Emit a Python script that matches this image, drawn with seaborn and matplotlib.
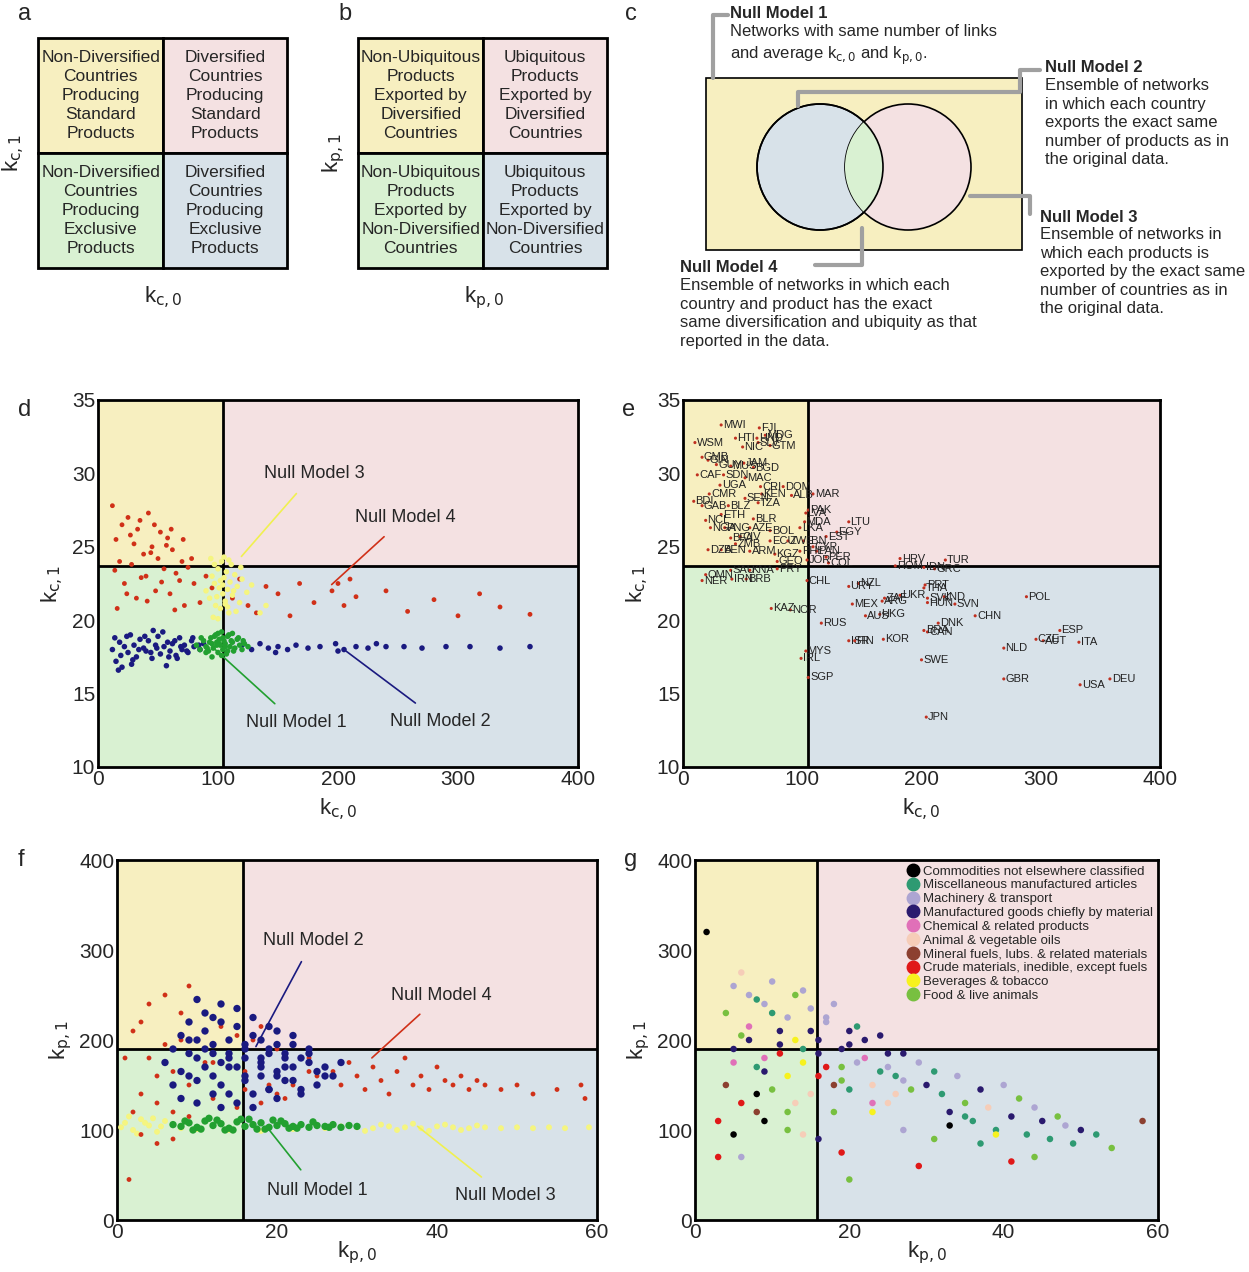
import matplotlib
matplotlib.use("Agg")
import matplotlib.pyplot as plt
import matplotlib.patches as mpatches
import seaborn as sns
import pandas as pd

sns.set_style("white")
plt.rcParams['font.family'] = ['Liberation Sans', 'DejaVu Sans']

W, H = 1249, 1272
YEL, PNK, GRN, BLU = "#f7efc0", "#f4e1e2", "#d9f1d2", "#d8e2e9"

# ---------------- data ----------------
quad_a = ["Non-Diversified\nCountries\nProducing\nStandard\nProducts", "Diversified\nCountries\nProducing\nStandard\nProducts",
          "Non-Diversified\nCountries\nProducing\nExclusive\nProducts", "Diversified\nCountries\nProducing\nExclusive\nProducts"]
quad_b = ["Non-Ubiquitous\nProducts\nExported by\nDiversified\nCountries", "Ubiquitous\nProducts\nExported by\nDiversified\nCountries",
          "Non-Ubiquitous\nProducts\nExported by\nNon-Diversified\nCountries", "Ubiquitous\nProducts\nExported by\nNon-Diversified\nCountries"]

# panel d: null models (kc0, kc1)
d_nm1_x = [82, 85, 88, 90, 92, 94, 95, 96, 98, 99, 100, 101, 102, 103, 104, 105, 106, 107, 108, 110, 112, 114, 116, 118, 120, 122, 125,
           86, 90, 93, 97, 100, 103, 106, 109, 113, 117, 121, 95, 99, 104, 108, 112, 91, 101, 111]
d_nm1_y = [18.3, 18.0, 18.6, 18.2, 17.9, 18.8, 18.4, 18.1, 19.0, 18.5, 17.8, 18.7, 18.3, 19.2, 18.0, 18.6, 18.4, 17.7, 18.9, 18.2, 18.5, 18.1, 18.7, 18.3, 18.0, 18.4, 18.2,
           18.8, 17.8, 18.5, 18.9, 19.1, 17.6, 18.2, 19.0, 17.9, 18.8, 18.6, 17.5, 18.3, 18.8, 17.9, 19.1, 18.1, 18.4, 18.6]
d_nm2_x = [12, 15, 18, 20, 22, 25, 27, 30, 32, 35, 38, 40, 42, 45, 48, 50, 52, 55, 58, 60, 62, 65, 68, 70, 72, 75, 78, 80, 85, 88,
           14, 19, 24, 29, 34, 39, 44, 49, 54, 59, 64, 69, 74, 79, 84, 17, 28, 46, 57, 66,
           120, 128, 135, 142, 150, 158, 165, 175, 185, 198, 205, 215, 225, 240, 255, 270, 290, 310, 335, 360, 148, 200, 232]
d_nm2_y = [18.0, 17.2, 18.5, 16.8, 18.2, 17.8, 19.0, 18.3, 17.5, 18.7, 18.1, 17.9, 18.6, 17.4, 18.3, 18.9, 17.7, 18.2, 18.5, 17.9, 18.4, 17.6, 18.8, 18.0, 18.3, 17.8, 18.6, 18.2, 18.0, 18.4,
           18.8, 17.6, 18.9, 17.3, 18.0, 18.9, 17.8, 18.1, 19.2, 17.5, 18.6, 18.2, 17.9, 18.8, 18.3, 16.6, 17.0, 19.3, 16.9, 17.4,
           18.3, 18.0, 18.4, 18.1, 18.2, 18.0, 18.3, 18.1, 18.2, 18.4, 18.0, 18.2, 18.1, 18.2, 18.2, 18.1, 18.2, 18.2, 18.1, 18.2, 17.8, 17.9, 18.4]
d_nm3_x = [90, 93, 95, 97, 98, 100, 101, 102, 103, 104, 105, 106, 107, 108, 109, 110, 112, 114, 116, 118, 120, 124, 128, 135, 140,
           94, 96, 99, 102, 105, 108, 111, 115, 119, 100, 104, 109, 113, 97, 106]
d_nm3_y = [22.0, 21.5, 23.0, 22.5, 21.0, 23.5, 22.2, 20.8, 24.0, 21.8, 22.9, 21.3, 23.3, 22.1, 20.5, 22.6, 21.7, 23.1, 22.3, 21.2, 22.8, 21.9, 22.4, 20.5, 21.0,
           24.2, 20.2, 21.6, 22.7, 24.3, 20.9, 23.8, 20.6, 23.6, 20.1, 22.4, 24.1, 22.0, 23.8, 21.1]
d_nm4_x = [12, 15, 18, 20, 22, 25, 28, 30, 32, 35, 38, 40, 42, 45, 48, 50, 52, 55, 58, 60, 62, 65, 68, 70, 72, 75, 80, 85, 90, 95,
           16, 24, 33, 41, 47, 53, 57, 64, 71, 78, 14, 27, 36, 44, 61,
           112, 118, 125, 132, 140, 150, 160, 168, 180, 195, 200, 205, 210, 215, 240, 258, 280, 300, 318, 335, 360]
d_nm4_y = [27.8, 25.5, 24.0, 26.5, 22.5, 27.0, 23.8, 25.2, 21.5, 26.8, 24.5, 23.0, 27.3, 25.0, 22.0, 24.2, 26.0, 23.5, 25.6, 21.8, 24.8, 23.2, 22.7, 24.0, 21.0, 23.6, 22.5, 21.2, 23.0, 22.2,
           20.8, 21.8, 26.2, 21.3, 26.5, 22.6, 25.1, 20.7, 25.5, 24.2, 23.4, 25.8, 22.9, 24.6, 26.2,
           21.5, 22.8, 21.0, 20.5, 22.3, 21.8, 20.3, 22.5, 21.2, 22.0, 22.5, 21.0, 22.8, 21.6, 22.0, 20.6, 21.4, 20.3, 21.8, 20.9, 20.4]

# panel e: countries (kc0, kc1)
e_name = ["MWI", "FJI", "MDG", "HTI", "HND", "GTM", "NIC", "SLV", "WSM", "GMB", "GIN", "JAM", "GUY", "MUS", "BGD", "CAF", "SDN", "MAC",
          "UGA", "CRI", "DOM", "CMR", "KEN", "ALB", "MAR", "BDI", "GAB", "BLZ", "TZA", "SEN", "PAK", "LVA", "ETH", "NCL", "BLR", "MDA",
          "NGA", "LTU", "EGY", "LKA", "PNG", "AZE", "BOL", "EST", "CIV", "BFA", "ECU", "ZWE", "LBN", "CYP", "ZMB", "ARM", "BEN", "PAN",
          "PER", "PHL", "KGZ", "GEO", "DZA", "COL", "JOR", "HRV", "TUR", "ROM", "IDN", "GRC", "PRT", "THA", "SVK", "IND", "HUN", "SVN",
          "POL", "CHN", "BRA", "DNK", "CAN", "CZE", "ESP", "AUT", "ITA", "NLD", "SWE", "GBR", "USA", "DEU", "JPN", "SGP", "IRL", "MYS",
          "KAZ", "NOR", "RUS", "ISR", "FIN", "KOR", "AUS", "HKG", "MEX", "ARG", "ZAF", "UKR", "URY", "NZL", "CHL", "OMN", "NER", "IRN",
          "BRB", "KNA", "PRY", "SAU"]
e_x = [32, 64, 69, 44, 62, 73, 50, 63, 10, 16, 21, 51, 28, 40, 59, 12, 34, 52,
       31, 65, 84, 22, 66, 91, 109, 9, 16, 38, 63, 52, 105, 103, 32, 19, 59, 102,
       23, 139, 129, 98, 35, 56, 73, 120, 48, 40, 73, 88, 101, 109, 44, 56, 32, 112,
       120, 98, 77, 79, 21, 122, 104, 182, 220, 178, 202, 211, 203, 202, 205, 219, 205, 228,
       288, 245, 202, 214, 205, 296, 316, 302, 332, 269, 200, 269, 333, 358, 204, 105, 99, 103,
       74, 90, 116, 139, 144, 168, 153, 165, 142, 167, 169, 182, 139, 147, 104, 19, 16, 41,
       53, 56, 79, 40]
e_y = [33.3, 33.1, 32.6, 32.4, 32.4, 31.9, 31.8, 32.1, 32.1, 31.1, 30.9, 30.7, 30.6, 30.5, 30.4, 29.9, 29.9, 29.7,
       29.2, 29.1, 29.1, 28.6, 28.6, 28.5, 28.6, 28.1, 27.8, 27.8, 28.0, 28.3, 27.5, 27.3, 27.2, 26.8, 26.9, 26.7,
       26.3, 26.7, 26.0, 26.3, 26.3, 26.3, 26.1, 25.7, 25.7, 25.6, 25.4, 25.4, 25.4, 25.0, 25.2, 24.7, 24.8, 24.7,
       24.3, 24.7, 24.5, 24.0, 24.8, 23.9, 24.1, 24.2, 24.1, 23.7, 23.6, 23.5, 22.4, 22.2, 21.5, 21.6, 21.2, 21.1,
       21.6, 20.3, 19.3, 19.8, 19.2, 18.7, 19.3, 18.6, 18.5, 18.1, 17.3, 16.0, 15.6, 16.0, 13.4, 16.1, 17.4, 17.9,
       20.8, 20.7, 19.8, 18.6, 18.6, 18.7, 20.3, 20.4, 21.1, 21.3, 21.5, 21.7, 22.3, 22.5, 22.7, 23.1, 22.7, 22.8,
       22.8, 23.4, 23.5, 23.4]

# panel f: null models (kp0, kp1)
f_nm1_x = [7, 8, 9, 10, 11, 12, 13, 14, 15, 16, 17, 18, 19, 20, 21, 22, 23, 24, 25, 26, 27, 28, 29, 30,
           8.5, 10.5, 12.5, 14.5, 16.5, 18.5, 20.5, 22.5, 24.5, 26.5, 9.5, 11.5, 13.5, 15.5, 17.5, 19.5, 21.5]
f_nm1_y = [106, 104, 108, 103, 110, 105, 107, 102, 109, 104, 106, 108, 103, 105, 107, 104, 106, 103, 105, 104, 106, 103, 105, 104,
           110, 101, 111, 100, 112, 101, 110, 102, 109, 103, 100, 113, 100, 112, 101, 111, 102]
f_nm3_x = [0.5, 1, 2, 3, 4, 5, 6, 8, 10, 14, 18, 22, 26, 28, 30, 32, 34, 36, 38, 40, 42, 44, 46, 48, 50, 52, 54, 56, 59,
           1.5, 2.5, 3.5, 4.5, 5.5, 31, 33, 35, 37, 39, 41, 43, 45]
f_nm3_y = [103, 108, 100, 112, 105, 98, 110, 102, 101, 100, 99, 101, 102, 104, 103, 102, 104, 103, 102, 104, 103, 102, 103, 102, 103, 102, 103, 102, 103,
           115, 96, 108, 113, 104, 99, 106, 100, 107, 99, 106, 100, 105]
f_nm2_x = [6, 7, 8, 9, 10, 11, 12, 13, 14, 15, 16, 17, 18, 19, 20, 21, 22, 23, 24, 25, 26, 27, 28,
           7, 8, 9, 10, 11, 12, 13, 14, 15, 16, 17, 18, 19, 20, 21, 22, 23, 24, 25, 26,
           8, 9, 10, 11, 12, 13, 14, 15, 16, 17, 18, 19, 20, 21, 22, 23, 24,
           9, 10, 11, 12, 13, 14, 15, 16, 17, 18, 19, 20, 21, 22, 10, 12, 13, 14, 16, 18, 19, 20]
f_nm2_y = [175, 190, 165, 200, 180, 210, 160, 220, 185, 170, 195, 205, 175, 190, 165, 185, 170, 180, 175, 165, 170, 160, 175,
           150, 205, 185, 155, 230, 195, 175, 140, 215, 155, 225, 200, 145, 210, 155, 195, 145, 190, 150, 160,
           135, 220, 130, 170, 140, 240, 200, 130, 160, 140, 180, 215, 135, 180, 205, 140, 185,
           160, 245, 190, 225, 125, 180, 235, 190, 125, 160, 145, 195, 170, 155, 200, 185, 150, 170, 180, 170, 185, 160]
f_nm4_x = [1, 2, 3, 4, 5, 6, 7, 8, 9, 10, 11, 12, 13, 14, 15, 16, 17, 18, 19, 20, 21, 22, 23, 24, 25,
           2, 3, 4, 5, 6, 7, 8, 9, 10, 11, 12, 13, 14, 15, 16, 17, 18, 20, 22, 24,
           3, 5, 7, 9, 11, 1.5,
           27, 28, 29, 30, 31, 32, 33, 34, 35, 36, 37, 38, 39, 40, 41, 42, 43, 44, 45, 46, 48, 50, 52, 55, 58, 58.5]
f_nm4_y = [180, 210, 140, 240, 160, 195, 120, 230, 150, 200, 110, 175, 240, 140, 205, 165, 125, 215, 150, 190, 135, 170, 145, 180, 160,
           120, 220, 180, 130, 250, 165, 200, 115, 245, 175, 135, 215, 185, 125, 145, 200, 130, 140, 150, 165,
           95, 85, 90, 260, 230, 45,
           165, 150, 175, 160, 145, 170, 155, 140, 165, 180, 150, 160, 145, 170, 155, 150, 160, 145, 155, 150, 145, 150, 140, 145, 150, 135]

# panel g: products (kp0, kp1, SITC category index)
g_cats = ["Commodities not elsewhere classified", "Miscellaneous manufactured articles", "Machinery & transport",
          "Manufactured goods chiefly by material", "Chemical & related products", "Animal & vegetable oils",
          "Mineral fuels, lubs. & related materials", "Crude materials, inedible, except fuels", "Beverages & tobacco",
          "Food & live animals"]
g_colors = ["#000000", "#2e9a72", "#ada5d2", "#2a1a6e", "#e070b8", "#f6cdb8", "#8c4030", "#e01818", "#f7f21e", "#78c040"]
g_x = [1.5, 3, 4, 5, 6, 7, 8, 9, 10, 11, 12, 13, 14, 15, 16, 17, 18, 19, 20, 21, 22, 23, 24, 25, 26, 27, 28, 29, 30, 31,
       4, 5, 6, 7, 8, 9, 10, 11, 12, 13, 14, 15, 16, 17, 18, 19, 20, 21, 22, 23, 24, 25, 26, 27,
       5, 6, 7, 8, 9, 10, 11, 12, 13, 14, 15, 16, 17, 18, 19, 20,
       32, 33, 34, 35, 36, 37, 38, 39, 40, 41, 42, 43, 44, 45, 46, 47, 48, 49, 50, 52, 54, 58,
       3, 5, 8, 12, 16, 20, 25, 29, 33, 37, 41, 6, 9, 14, 19, 23, 27, 31, 35, 39, 44]
g_y = [320, 110, 230, 260, 275, 200, 245, 180, 265, 210, 160, 250, 190, 235, 200, 170, 240, 155, 195, 215, 180, 150, 205, 170, 160, 185, 145, 175, 150, 165,
       150, 190, 130, 215, 170, 240, 145, 195, 225, 130, 175, 210, 160, 220, 120, 190, 145, 175, 200, 130, 165, 185, 140, 155,
       175, 205, 250, 140, 165, 230, 185, 120, 200, 255, 140, 185, 225, 150, 170, 210,
       140, 120, 160, 130, 110, 145, 125, 100, 150, 115, 135, 95, 125, 110, 90, 115, 105, 85, 100, 95, 80, 110,
       70, 95, 120, 100, 90, 45, 130, 60, 105, 85, 65, 70, 110, 95, 75, 120, 100, 90, 115, 95, 70]
g_cat = [0, 7, 9, 2, 5, 3, 1, 4, 2, 3, 8, 9, 1, 2, 3, 7, 2, 9, 3, 1, 4, 5, 3, 2, 1, 3, 9, 2, 3, 1,
         6, 3, 7, 4, 1, 2, 9, 3, 2, 5, 8, 3, 7, 2, 9, 3, 1, 2, 3, 4, 1, 3, 5, 2,
         4, 9, 2, 0, 3, 1, 7, 9, 8, 2, 5, 3, 2, 6, 9, 3,
         1, 3, 2, 9, 1, 3, 5, 1, 2, 3, 9, 1, 2, 3, 1, 9, 2, 1, 3, 1, 9, 6,
         7, 0, 6, 9, 3, 9, 5, 7, 0, 1, 7, 2, 0, 5, 7, 8, 2, 9, 1, 8, 9]

# ---------------- figure ----------------
fig = plt.figure(figsize=(W / 100, H / 100), dpi=100)
bg = fig.add_axes([0, 0, 1, 1])
bg.set_xlim(0, W)
bg.set_ylim(H, 0)
bg.axis("off")


def quad_box(x0, y0, x1, y1, texts, xl, yl):
    xm, ym = (x0 + x1) / 2 + 1, (y0 + y1) / 2
    cols = [YEL, PNK, GRN, BLU]
    cells = [(x0, y0, xm, ym), (xm, y0, x1, ym), (x0, ym, xm, y1), (xm, ym, x1, y1)]
    for (a, b, c, d), col, t in zip(cells, cols, texts):
        bg.add_patch(mpatches.Rectangle((a, b), c - a, d - b, fc=col, ec="black", lw=2))
        bg.text((a + c) / 2, (b + d) / 2, t, ha="center", va="center", fontsize=12.5, linespacing=1.35)
    bg.text(x0 - 24, ym, yl, rotation=90, ha="center", va="center", fontsize=16)
    bg.text(xm, y1 + 30, xl, ha="center", va="center", fontsize=16)


quad_box(38, 38, 287, 268, quad_a, r"k$_{\rm c,0}$", r"k$_{\rm c,1}$")
quad_box(358, 38, 607, 268, quad_b, r"k$_{\rm p,0}$", r"k$_{\rm p,1}$")

# panel c: venn
bg.add_patch(mpatches.Rectangle((706, 78), 316, 172, fc=YEL, ec="black", lw=1.2))
c1 = mpatches.Circle((820, 167), 63, fc=BLU, ec="black", lw=1.2)
c2 = mpatches.Circle((908, 167), 63, fc=PNK, ec="black", lw=1.2)
bg.add_patch(c1)
bg.add_patch(c2)
c3 = mpatches.Circle((908, 167), 63, fc=GRN, ec="none")
bg.add_patch(c3)
c3.set_clip_path(c1)
bg.add_patch(mpatches.Circle((820, 167), 63, fc="none", ec="black", lw=1.2))
gl = dict(color="#a0a0a0", lw=3)
bg.plot([713, 713, 728], [78, 15, 15], **gl)
bg.plot([798, 798, 1020, 1020, 1040], [106, 92, 92, 70, 70], **gl)
bg.plot([970, 1030, 1030], [196, 196, 214], **gl)
bg.plot([862, 862, 815], [228, 265, 265], **gl)
bg.text(730, 14, "Null Model 1", fontsize=12, fontweight="bold", va="center")
bg.text(730, 24, "Networks with same number of links\nand average k$_{\\rm c,0}$ and k$_{\\rm p,0}$.", fontsize=12, va="top", linespacing=1.4)
bg.text(1045, 68, "Null Model 2", fontsize=12, fontweight="bold", va="center")
bg.text(1045, 78, "Ensemble of networks\nin which each country\nexports the exact same\nnumber of products as in\nthe original data.", fontsize=12, va="top", linespacing=1.3)
bg.text(1040, 217, "Null Model 3", fontsize=12, fontweight="bold", va="center")
bg.text(1040, 227, "Ensemble of networks in\nwhich each products is\nexported by the exact same\nnumber of countries as in\nthe original data.", fontsize=12, va="top", linespacing=1.3)
bg.text(680, 268, "Null Model 4", fontsize=12, fontweight="bold", va="center")
bg.text(680, 278, "Ensemble of networks in which each\ncountry and product has the exact\nsame diversification and ubiquity as that\nreported in the data.", fontsize=12, va="top", linespacing=1.3)

for lab, (x, y) in zip("abcdefg", [(18, 14), (338, 14), (625, 14), (18, 410), (622, 410), (18, 860), (624, 860)]):
    bg.text(x, y, lab, fontsize=17, va="center")


def panel(px0, py0, px1, py1, xlim, ylim, vx, hy, xl, yl, xt, yt, xpad=6):
    ax = fig.add_axes([px0 / W, 1 - py1 / H, (px1 - px0) / W, (py1 - py0) / H])
    ax.set_xlim(*xlim)
    ax.set_ylim(*ylim)
    for (a, b, c, d), col in zip([(xlim[0], hy, vx, ylim[1]), (vx, hy, xlim[1], ylim[1]),
                                  (xlim[0], ylim[0], vx, hy), (vx, ylim[0], xlim[1], hy)], [YEL, PNK, GRN, BLU]):
        ax.add_patch(mpatches.Rectangle((a, b), c - a, d - b, fc=col, ec="none", zorder=0))
    ax.axvline(vx, color="black", lw=2, zorder=1)
    ax.axhline(hy, color="black", lw=2, zorder=1)
    for s in ax.spines.values():
        s.set_linewidth(2)
        s.set_color("black")
    ax.set_xticks(xt)
    ax.set_yticks(yt)
    ax.tick_params(labelsize=15, direction="in", length=3, pad=2)
    ax.set_xlabel(xl, fontsize=16, labelpad=xpad)
    ax.set_ylabel(yl, fontsize=16, labelpad=4)
    return ax


def note(ax, txt, xy, xytext, col):
    ax.annotate(txt, xy=xy, xytext=xytext, fontsize=13, ha="center", va="center",
                arrowprops=dict(arrowstyle="-", color=col, lw=1.2, shrinkA=8))


kc0, kc1 = r"k$_{\rm c,0}$", r"k$_{\rm c,1}$"
kp0, kp1 = r"k$_{\rm p,0}$", r"k$_{\rm p,1}$"

# d
axd = panel(98, 400, 578, 767, (0, 400), (10, 35), 104, 23.7, kc0, kc1, range(0, 401, 100), range(10, 36, 5))
for xs, ys, col, s in [(d_nm4_x, d_nm4_y, "#d03018", 12), (d_nm2_x, d_nm2_y, "#1a1a80", 16),
                       (d_nm3_x, d_nm3_y, "#f5f580", 16), (d_nm1_x, d_nm1_y, "#22a030", 16)]:
    sns.scatterplot(x=xs, y=ys, ax=axd, color=col, s=s, edgecolor="none", zorder=3)
note(axd, "Null Model 3", (118, 24.2), (180, 30.0), "#f0f050")
note(axd, "Null Model 4", (193, 22.3), (256, 27.0), "#d03018")
note(axd, "Null Model 1", (95, 18.2), (165, 13.0), "#22a030")
note(axd, "Null Model 2", (205, 18.0), (285, 13.1), "#1a1a80")

# e
axe = panel(683, 400, 1160, 767, (0, 400), (10, 35), 105, 23.7, kc0, kc1, range(0, 401, 100), range(10, 36, 5))
edf = pd.DataFrame({"x": e_x, "y": e_y, "name": e_name})
sns.scatterplot(data=edf, x="x", y="y", ax=axe, color="#c03020", s=5, edgecolor="none", zorder=3)
for _, r in edf.iterrows():
    axe.text(r.x + 1.5, r.y, r["name"], fontsize=8, va="center", color="#222222", zorder=4)
axe.set_xlabel(kc0, fontsize=16)
axe.set_ylabel(kc1, fontsize=16)

# f
axf = panel(117, 860, 597, 1220, (0, 60), (0, 400), 15.8, 190, kp0, kp1, range(0, 61, 20), range(0, 401, 100), xpad=-2)
for xs, ys, col, s in [(f_nm3_x, f_nm3_y, "#f5f580", 18), (f_nm4_x, f_nm4_y, "#d03018", 12),
                       (f_nm2_x, f_nm2_y, "#1a1a80", 28), (f_nm1_x, f_nm1_y, "#22a030", 28)]:
    sns.scatterplot(x=xs, y=ys, ax=axf, color=col, s=s, edgecolor="none", zorder=3)
note(axf, "Null Model 2", (17.2, 190), (24.5, 311), "#1a1a80")
note(axf, "Null Model 4", (31.6, 178), (40.5, 250), "#d03018")
note(axf, "Null Model 1", (18.5, 106), (25, 33), "#22a030")
note(axf, "Null Model 3", (37.3, 106), (48.5, 27), "#f0f050")

# g
axg = panel(695, 860, 1158, 1220, (0, 60), (0, 400), 15.8, 190, kp0, kp1, range(0, 61, 20), range(0, 401, 100), xpad=-2)
gdf = pd.DataFrame({"x": g_x, "y": g_y, "cat": [g_cats[i] for i in g_cat]})
sns.scatterplot(data=gdf, x="x", y="y", hue="cat", hue_order=g_cats, palette=g_colors, ax=axg,
                s=22, edgecolor="none", zorder=3, legend=False)
handles = [plt.Line2D([], [], marker="o", ls="", color=c, markersize=9) for c in g_colors]
axg.legend(handles, g_cats, loc="upper right", fontsize=9.5, frameon=False, handletextpad=0.1,
           labelspacing=0.12, borderaxespad=0.2, borderpad=0.2, handlelength=1.2)
axg.set_xlabel(kp0, fontsize=16, labelpad=-2)
axg.set_ylabel(kp1, fontsize=16)

fig.savefig("out.png", dpi=100)
